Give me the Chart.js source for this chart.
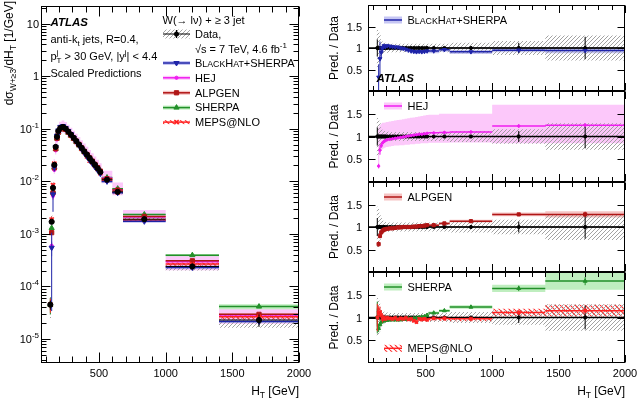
<!DOCTYPE html>
<html>
<head>
<meta charset="utf-8">
<title>W + 3 jets, HT</title>
<script src="https://cdn.jsdelivr.net/npm/chart.js@4.4.1/dist/chart.umd.min.js"></script>
<style>
  body { margin: 0; background: #fff; }
  #box { position: relative; width: 638px; height: 403px; overflow: hidden; }
  #box canvas { position: absolute; left: 0; top: 0; }
</style>
</head>
<body>
<div id="box">
  <canvas id="cMain" width="638" height="403"></canvas>
  <canvas id="cR0" width="638" height="403"></canvas>
  <canvas id="cR1" width="638" height="403"></canvas>
  <canvas id="cR2" width="638" height="403"></canvas>
  <canvas id="cR3" width="638" height="403"></canvas>
</div>
<script>
// H_T bin edges [GeV]
const htEdges = [130,140,150,160,170,180,190,200,220,240,260,280,300,320,340,360,380,400,420,440,460,480,500,520,600,680,1000,1400,2000];

// measured dsigma/dHT [1/GeV], relative syst (hatched band) and stat (error bar)
const dataXsec = [4.5e-5,1.7e-3,7.5e-3,2.05e-2,4.5e-2,7.0e-2,9.0e-2,0.103,0.108,0.100,0.088,0.077,0.067,0.058,0.050,0.043,0.037,0.032,0.0275,0.0237,0.0205,0.0176,0.0150,0.0107,0.0063,0.0019,2.4e-4,2.3e-5];
const dataSyst = [0.45,0.4,0.3,0.2,0.15,0.13,0.12,0.11,0.1,0.1,0.1,0.1,0.1,0.1,0.1,0.1,0.1,0.1,0.1,0.1,0.1,0.1,0.1,0.1,0.1,0.12,0.16,0.29];
const dataStat = [0.2,0.04,0.02,0.01,0.01,0.01,0.01,0.01,0.01,0.01,0.01,0.01,0.01,0.01,0.01,0.01,0.01,0.01,0.01,0.01,0.01,0.01,0.01,0.01,0.02,0.03,0.12,0.26];

// prediction / data
const bhRatio = [null,0.32,0.75,0.9,1.0,1.05,1.03,1.05,1.04,1.03,1.02,1.02,1.0,0.99,0.97,0.95,0.93,0.92,0.91,0.92,0.91,0.92,0.93,0.93,0.96,0.91,0.95,0.94];
const bhBand  = [null,0.1,0.08,0.06,0.05,0.05,0.05,0.05,0.05,0.05,0.05,0.05,0.05,0.05,0.05,0.05,0.05,0.05,0.05,0.05,0.05,0.05,0.05,0.05,0.05,0.05,0.05,0.06];
const bhStat  = [null,0.3,0.4,0.15,0.07,0.05,0.04,0.03,0.02,0.02,0.02,0.02,0.02,0.02,0.02,0.02,0.02,0.02,0.02,0.02,0.02,0.02,0.02,0.02,0.02,0.02,0.03,0.03];

const hejRatio = [null,0.35,0.7,0.8,0.86,0.89,0.91,0.93,0.94,0.95,0.96,0.97,0.98,0.99,1.0,1.01,1.02,1.03,1.04,1.05,1.05,1.06,1.07,1.08,1.09,1.1,1.23,1.25];
const hejLo    = [null,0.3,0.6,0.68,0.72,0.74,0.76,0.77,0.78,0.79,0.8,0.8,0.81,0.81,0.82,0.82,0.83,0.83,0.84,0.84,0.85,0.85,0.85,0.86,0.86,0.87,0.85,0.85];
const hejHi    = [null,1.2,1.25,1.28,1.3,1.3,1.31,1.32,1.33,1.34,1.35,1.36,1.37,1.38,1.39,1.4,1.41,1.42,1.43,1.44,1.45,1.46,1.47,1.48,1.5,1.5,1.7,1.7];
const hejStat  = [null,0.05,0.1,0.05,0.03,0.02,0.02,0.02,0.02,0.02,0.02,0.02,0.02,0.02,0.02,0.02,0.02,0.02,0.02,0.02,0.02,0.02,0.02,0.02,0.03,0.03,0.04,0.04];

const alpRatio = [null,0.62,0.8,0.88,0.92,0.94,0.95,0.96,0.97,0.97,0.98,0.99,0.99,1.0,1.0,1.0,1.0,1.01,1.01,1.02,1.02,1.03,1.04,1.04,1.08,1.13,1.28,1.28];
const alpBand  = [null,0.04,0.03,0.03,0.03,0.03,0.03,0.03,0.03,0.03,0.03,0.03,0.03,0.03,0.03,0.03,0.03,0.03,0.03,0.03,0.03,0.03,0.03,0.03,0.03,0.03,0.04,0.07];
const alpStat  = [null,0.06,0.05,0.03,0.02,0.02,0.02,0.02,0.02,0.02,0.02,0.02,0.02,0.02,0.02,0.02,0.02,0.02,0.02,0.02,0.02,0.02,0.02,0.02,0.03,0.03,0.03,0.06];

const shRatio = [1.0,0.76,0.85,0.9,0.92,0.93,0.94,0.94,0.95,0.95,0.95,0.95,0.95,0.96,0.96,0.97,0.97,0.98,0.99,1.0,1.01,1.02,1.05,1.1,1.15,1.23,1.64,1.8];
const shBand  = [0.1,0.05,0.04,0.03,0.03,0.03,0.03,0.03,0.03,0.03,0.03,0.03,0.03,0.03,0.03,0.03,0.03,0.03,0.03,0.03,0.03,0.03,0.03,0.03,0.03,0.04,0.08,0.19];
const shStat  = [0.35,0.08,0.06,0.04,0.03,0.02,0.02,0.02,0.02,0.02,0.02,0.02,0.02,0.02,0.02,0.02,0.02,0.02,0.02,0.02,0.02,0.02,0.02,0.02,0.02,0.03,0.06,0.09];

const mepsRatio = [1.0,1.1,1.12,1.05,0.97,1.0,0.97,0.99,0.98,0.97,0.99,0.96,0.98,0.97,0.99,0.96,0.97,0.93,0.9,0.97,0.96,0.97,0.95,0.98,0.98,0.97,1.11,1.15];
const mepsBand  = [0.15,0.12,0.1,0.08,0.07,0.06,0.06,0.05,0.05,0.05,0.05,0.05,0.05,0.05,0.05,0.05,0.05,0.05,0.05,0.05,0.05,0.05,0.05,0.05,0.05,0.05,0.08,0.13];
const mepsStat  = [0.3,0.15,0.12,0.1,0.08,0.06,0.05,0.05,0.04,0.04,0.04,0.04,0.04,0.04,0.04,0.04,0.04,0.04,0.04,0.04,0.04,0.04,0.04,0.04,0.05,0.05,0.06,0.06];

const xTickLabels = [500, 1000, 1500, 2000];
const ratioTicks = [0.5, 1, 1.5];

// ---------------------------------------------------------------
const FONT = '"Liberation Sans", Arial, Helvetica, sans-serif';
const binLo = htEdges.slice(0, -1), binHi = htEdges.slice(1);
const binMid = binLo.map((v, i) => (v + binHi[i]) / 2);
const ones = dataXsec.map(() => 1);

function hatch(color, dir, size, lw) {
  const t = document.createElement('canvas');
  t.width = t.height = size;
  const g = t.getContext('2d');
  g.strokeStyle = color; g.lineWidth = lw;
  g.beginPath();
  for (let k = -1; k <= 1; k++) {
    if (dir > 0) { g.moveTo(k * size, size); g.lineTo(k * size + size, 0); }
    else { g.moveTo(k * size, 0); g.lineTo(k * size + size, size); }
  }
  g.stroke();
  return g.createPattern(t, 'repeat');
}
const grayHatch = hatch('#999999', 1, 4, 0.9);
const redHatch = hatch('#ff3030', -1, 5, 1.2);

const pm = (r, e, s) => r.map((v, i) => v == null ? null : v + s * e[i]);

const models = {
  bh:   {r: bhRatio, lo: pm(bhRatio, bhBand, -1), hi: pm(bhRatio, bhBand, 1), s: bhStat, col: '#1f24a8', fill: '#c6c6f3', pt: 'triangle', rad: 3, rot: 180},
  hej:  {r: hejRatio, lo: hejLo, hi: hejHi, s: hejStat, col: '#f01ef0', fill: '#fcc8fa', pt: 'circle', rad: 1.6, rot: 0},
  alp:  {r: alpRatio, lo: pm(alpRatio, alpBand, -1), hi: pm(alpRatio, alpBand, 1), s: alpStat, col: '#b01616', fill: '#f5c3c3', pt: 'rect', rad: 3, rot: 0},
  sh:   {r: shRatio, lo: pm(shRatio, shBand, -1), hi: pm(shRatio, shBand, 1), s: shStat, col: '#23902a', fill: '#bfeebf', pt: 'triangle', rad: 3, rot: 0},
  meps: {r: mepsRatio, lo: pm(mepsRatio, mepsBand, -1), hi: pm(mepsRatio, mepsBand, 1), s: mepsStat, col: '#ff2222', fill: redHatch, pt: 'crossRot', rad: 3, rot: 0}
};

function scaled(arr, k, floor) {
  return arr.map((v, i) => v == null ? null : Math.max(v * k[i], floor));
}

// filled band between two stepped edges (pair of datasets, upper fills to +1)
function band(yLo, yHi, fill) {
  const up = [], dn = [];
  yLo.forEach((v, i) => {
    if (v == null) return;
    up.push({x: binLo[i], y: yHi[i]}, {x: binHi[i], y: yHi[i]});
    dn.push({x: binLo[i], y: v}, {x: binHi[i], y: v});
  });
  const none = 'rgba(0,0,0,0)';
  return [
    {data: up, fill: '+1', backgroundColor: fill, borderColor: none, borderWidth: 0, pointRadius: 0},
    {data: dn, fill: false, borderColor: none, borderWidth: 0, pointRadius: 0}
  ];
}
function segH(y, col, w) {
  const d = [];
  y.forEach((v, i) => { if (v != null) d.push({x: binLo[i], y: v}, {x: binHi[i], y: v}, {x: binMid[i], y: null}); });
  return {data: d, borderColor: col, borderWidth: w, pointRadius: 0, fill: false};
}
function segV(a, b, col, w) {
  const d = [];
  a.forEach((v, i) => { if (v != null) d.push({x: binMid[i], y: v}, {x: binMid[i], y: b[i]}, {x: binMid[i], y: null}); });
  return {data: d, borderColor: col, borderWidth: w, pointRadius: 0, fill: false};
}
function marks(y, col, style, r, rot) {
  return {data: y.map((v, i) => ({x: binMid[i], y: v})), showLine: false, borderColor: col,
    pointStyle: style, pointRadius: r, pointRotation: rot, pointBackgroundColor: col,
    pointBorderColor: col, pointBorderWidth: style === 'crossRot' ? 1.5 : 1};
}
function modelSets(m, k, floor, lw, rf) {
  const y = scaled(m.r, k, floor);
  return [
    segH(y, m.col, lw),
    segV(scaled(pm(m.r, m.s, -1), k, floor), scaled(pm(m.r, m.s, 1), k, floor), m.col, 1),
    marks(y, m.col, m.pt, m.rad * rf, m.rot)
  ];
}
function dataSets(k, floor, r) {
  const y = scaled(ones, k, floor);
  return [
    segH(y, '#000', 1),
    segV(scaled(pm(ones, dataStat, -1), k, floor), scaled(pm(ones, dataStat, 1), k, floor), '#000', 1),
    marks(y, '#000', 'circle', r, 0)
  ];
}
function dataBand(k, floor) {
  return band(scaled(pm(ones, dataSyst, -1), k, floor), scaled(pm(ones, dataSyst, 1), k, floor), grayHatch);
}
function modelBand(m, k, floor) {
  return band(scaled(m.lo, k, floor), scaled(m.hi, k, floor), m.fill);
}

// ---------------- text helpers ----------------
function font(ctx, size, style) { ctx.font = (style ? style + ' ' : '') + size + 'px ' + FONT; }
function rich(ctx, parts, x, y, align) {
  let w = 0;
  parts.forEach(p => { font(ctx, p[1], p[3]); if (!p[4]) w += ctx.measureText(p[0]).width; });
  let cx = align === 'right' ? x - w : align === 'center' ? x - w / 2 : x;
  ctx.textAlign = 'left'; ctx.textBaseline = 'alphabetic'; ctx.fillStyle = '#000';
  parts.forEach(p => {
    font(ctx, p[1], p[3]);
    ctx.fillText(p[0], cx, y + (p[2] || 0));
    if (!p[4]) cx += ctx.measureText(p[0]).width;
  });
}
const bhName = [['B', 11], ['LACK', 8.8], ['H', 11], ['AT', 8.8], ['+SHERPA', 11]];
const supNames = {hej: [['HEJ', 11]], alp: [['ALPGEN', 11]], sh: [['SHERPA', 11]], meps: [['MEPS@NLO', 11]], bh: bhName};

function frameAndTicks(c, o) {
  const {ctx, chartArea: a} = c;
  const sx = c.scales.x, sy = c.scales.y;
  const L = Math.round(a.left) + 0.5, R = Math.round(a.right) - 0.5;
  const T = Math.round(a.top) + 0.5, B = Math.round(a.bottom) - 0.5;
  ctx.save();
  ctx.strokeStyle = '#000'; ctx.lineWidth = 1;
  ctx.strokeRect(L, T, R - L, B - T);
  ctx.beginPath();
  for (let v = 100; v <= 2000; v += 100) {
    const p = Math.round(sx.getPixelForValue(v)) + 0.5;
    const len = v % 500 ? o.xMin : o.xMaj;
    ctx.moveTo(p, B); ctx.lineTo(p, B - len);
    ctx.moveTo(p, T); ctx.lineTo(p, T + len);
  }
  o.yTicks.forEach(([v, len]) => {
    const p = Math.round(sy.getPixelForValue(v)) + 0.5;
    if (p < a.top || p > a.bottom) return;
    ctx.moveTo(L, p); ctx.lineTo(L + len, p);
    ctx.moveTo(R, p); ctx.lineTo(R - len, p);
  });
  ctx.stroke();
  if (o.xLabels) {
    xTickLabels.forEach(v => rich(ctx, [[String(v), 11]], sx.getPixelForValue(v), 377, 'center'));
    rich(ctx, [['H', 12], ['T', 8.5, 3], [' [GeV]', 12]], a.right, 395, 'right');
  }
  ctx.restore();
}

function legendLine(ctx, m, x0, x1, y, withBand, withMark) {
  ctx.save();
  if (withBand) {
    ctx.fillStyle = m.fill;
    ctx.fillRect(x0, y - withBand / 2, x1 - x0, withBand);
  }
  ctx.strokeStyle = m.col; ctx.lineWidth = 1.5;
  ctx.beginPath(); ctx.moveTo(x0, y); ctx.lineTo(x1, y); ctx.stroke();
  if (withMark) {
    ctx.fillStyle = m.col; ctx.lineWidth = m.pt === 'crossRot' ? 1.5 : 1;
    Chart.helpers.drawPoint(ctx, {pointStyle: m.pt, radius: m.rad, rotation: m.rot, borderWidth: 1}, (x0 + x1) / 2, y);
  }
  ctx.restore();
}

// ---------------- main (left) panel ----------------
const logTicks = [];
for (let e = -6; e <= 1; e++) {
  for (let m = 1; m <= 9; m++) logTicks.push([m * Math.pow(10, e), m === 1 ? 9 : 5]);
}

function drawMain(c) {
  const {ctx} = c;
  const sy = c.scales.y;
  frameAndTicks(c, {xMaj: 10, xMin: 6, yTicks: logTicks, xLabels: true});
  for (let e = -5; e <= 1; e++) {
    const y = sy.getPixelForValue(Math.pow(10, e)) + 4;
    let parts;
    if (e === 0) parts = [['1', 11]];
    else if (e === 1) parts = [['10', 11]];
    else parts = [['10', 11], [String(e), 8, -5]];
    rich(ctx, parts, 39, y, 'right');
  }
  ctx.save();
  ctx.translate(13, 1);
  ctx.rotate(-Math.PI / 2);
  rich(ctx, [['d', 12], ['σ', 12], ['W+≥3', 8.5, 3], ['/dH', 12], ['T', 8.5, 3], [' [1/GeV]', 12]], 0, 0, 'right');
  ctx.restore();

  rich(ctx, [['ATLAS', 11.5, 0, 'bold italic']], 50.5, 26);
  rich(ctx, [['anti-k', 11], ['t', 8, 3], [' jets, R=0.4,', 11]], 50.5, 43);
  rich(ctx, [['p', 11], ['j', 8, -5, '', true], ['T', 8, 3], [' > 30 GeV, |y', 11], ['j', 8, -5], ['| < 4.4', 11]], 50.5, 60);
  rich(ctx, [['Scaled Predictions', 11]], 50.5, 76.5);
  rich(ctx, [['W(→ lν) + ≥ 3 jet', 11]], 162.5, 24);

  // data legend entry
  ctx.save();
  ctx.fillStyle = grayHatch;
  ctx.fillRect(163, 29.5, 27, 9);
  ctx.strokeStyle = '#000'; ctx.lineWidth = 1.2;
  ctx.beginPath(); ctx.moveTo(163, 34); ctx.lineTo(190, 34); ctx.moveTo(176.5, 30); ctx.lineTo(176.5, 38); ctx.stroke();
  ctx.fillStyle = '#000'; ctx.beginPath(); ctx.arc(176.5, 34, 2.5, 0, 7); ctx.fill();
  ctx.restore();
  rich(ctx, [['Data,', 11]], 195, 37.5);
  rich(ctx, [['√s = 7 TeV, 4.6 fb', 11], ['-1', 8, -5]], 195, 52.5);

  const rows = [['bh', 66.7], ['hej', 81.5], ['alp', 96.5], ['sh', 111.3], ['meps', 125.8]];
  rows.forEach(([k, y]) => {
    legendLine(ctx, models[k], 163, 190, y - 3.7, 4, true);
    rich(ctx, supNames[k], 195, y);
  });
}

const mainSets = [];
['hej', 'sh', 'alp', 'bh'].forEach(k => mainSets.push(...modelBand(models[k], dataXsec, 1e-8)));
mainSets.push(...dataBand(dataXsec, 1e-8));
mainSets.push(...modelBand(models.meps, dataXsec, 1e-8));
['sh', 'hej', 'alp', 'meps', 'bh'].forEach(k => mainSets.push(...modelSets(models[k], dataXsec, 1e-8, 1.5, 1)));
mainSets.push(...dataSets(dataXsec, 1e-8, 2.6));

// ---------------- ratio panels ----------------
const panelTops = [1, 91, 182, 272, 363];
const ratioTickLen = ratioTicks.map(v => [v, 7]);

function ratioSets(keys, hatchKey) {
  const s = [];
  keys.forEach(k => { if (k !== hatchKey) s.push(...modelBand(models[k], ones, -1)); });
  if (hatchKey) s.push(...modelBand(models[hatchKey], ones, -1));
  s.push(...dataBand(ones, -1));
  s.push({data: [{x: 65, y: 1}, {x: 2000, y: 1}], borderColor: '#000', borderWidth: 1.3, pointRadius: 0, fill: false});
  s.push(...dataSets(ones, -1, 1.6));
  keys.forEach(k => s.push(...modelSets(models[k], ones, -1, 1.5, 0.75)));
  return s;
}

function drawRatio(c, idx, keys) {
  const {ctx, chartArea: a} = c;
  const sy = c.scales.y;
  frameAndTicks(c, {xMaj: 7.5, xMin: 4.5, yTicks: ratioTickLen, xLabels: idx === 3});
  ratioTicks.forEach(v => rich(ctx, [[String(v), 11]], 362, sy.getPixelForValue(v) + 4, 'right'));
  ctx.save();
  ctx.translate(338, (a.top + a.bottom) / 2);
  ctx.rotate(-Math.PI / 2);
  rich(ctx, [['Pred. / Data', 12]], 0, 0, 'center');
  ctx.restore();
  const m = models[keys[0]];
  legendLine(ctx, m, 384, 402, a.top + 15, 7, false);
  rich(ctx, supNames[keys[0]], 407.5, a.top + 19);
  if (idx === 0) rich(ctx, [['ATLAS', 11.5, 0, 'bold italic']], 376.5, 81.5);
  if (idx === 3) {
    legendLine(ctx, models.meps, 384, 402, 348.3, 7, false);
    rich(ctx, supNames.meps, 407.5, 352.3);
  }
}

function makeChart(id, pad, yScale, sets, deco) {
  sets.forEach((d, i) => { d.order = sets.length - i; });
  return new Chart(document.getElementById(id), {
    type: 'line',
    data: {datasets: sets},
    options: {
      responsive: false, animation: false, devicePixelRatio: 1, events: [],
      spanGaps: false,
      layout: {padding: pad},
      elements: {line: {tension: 0}, point: {radius: 0}},
      plugins: {legend: {display: false}, tooltip: {enabled: false}},
      scales: {
        x: {type: 'linear', min: 65, max: 2000, display: false},
        y: Object.assign({display: false}, yScale)
      }
    },
    plugins: [{id: 'deco_' + id, afterDraw: deco}]
  });
}

makeChart('cMain', {left: 41, right: 638 - 299, top: 1, bottom: 403 - 363},
  {type: 'logarithmic', min: 3.5e-6, max: 22}, mainSets, drawMain);

const panelKeys = [['bh'], ['hej'], ['alp'], ['sh', 'meps']];
panelKeys.forEach((keys, i) => {
  makeChart('cR' + i, {left: 368, right: 638 - 625, top: panelTops[i], bottom: 403 - panelTops[i + 1]},
    {type: 'linear', min: 0, max: 2},
    ratioSets(keys, keys.length > 1 ? 'meps' : null),
    c => drawRatio(c, i, keys));
});
</script>
</body>
</html>
